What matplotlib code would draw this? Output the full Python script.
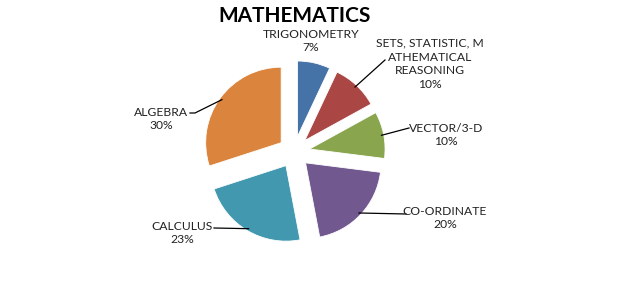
import numpy as np
import matplotlib
matplotlib.use("Agg")
import matplotlib.pyplot as plt

# Syllabus weightage by topic
topics = ["TRIGONOMETRY", "SETS, STATISTIC, M\nATHEMATICAL\nREASONING", "VECTOR/3-D",
          "CO-ORDINATE", "CALCULUS", "ALGEBRA"]
shares = [7, 10, 10, 20, 23, 30]
colors = ["#4572A7", "#AA4643", "#89A54E", "#71588F", "#4198AF", "#DB843D"]

W, H = 621, 304
cx, cy, R = 294, H - 152, 75.5
explode_frac = 0.21

# Label placement (text centre, pixel coords from top-left) and whether a leader line is drawn
label_pos = [(311, 41), (430, 64), (446, 135), (445, 218), (182, 233), (161, 119)]
leader = [False, True, True, True, True, True]
leader_start = [None, (385, 60), (409, 128), (406, 214), (214, 228), (190, 113)]

plt.rcParams["font.family"] = ["Lato", "DejaVu Sans"]
fig = plt.figure(figsize=(W / 100, H / 100), dpi=100)
ax = fig.add_axes([0, 0, 1, 1])

# matplotlib's explode offsets are in data units
wedges, _ = ax.pie(shares, colors=colors, startangle=90, counterclock=False,
                   radius=R, center=(cx, cy),
                   explode=[explode_frac * R] * len(shares),
                   wedgeprops=dict(edgecolor="white", linewidth=0.6))
ax.set_xlim(0, W)
ax.set_ylim(0, H)
ax.set_aspect("auto")
ax.axis("off")

total = sum(shares)
cum = np.cumsum([0] + shares)
for i, (name, v) in enumerate(zip(topics, shares)):
    mid = (cum[i] + v / 2) / total * 2 * np.pi  # clockwise from 12 o'clock
    ox = cx + explode_frac * R * np.sin(mid)
    oy = cy + explode_frac * R * np.cos(mid)
    ex, ey = ox + 0.97 * R * np.sin(mid), oy + 0.97 * R * np.cos(mid)
    tx, ty = label_pos[i]
    ax.text(tx, H - ty, f"{name}\n{v}%", ha="center", va="center", fontsize=8.7,
            color="#222222", linespacing=1.32)
    if leader[i]:
        sx, sy = leader_start[i]
        if i == 5:
            ax.plot([sx, sx + 5, ex], [H - sy, H - sy, ey], color="black", lw=0.9)
        else:
            ax.plot([sx, ex], [H - sy, ey], color="black", lw=0.9)

ax.text(295, H - 16, "MATHEMATICS", ha="center", va="center", fontsize=15,
        fontweight="bold", color="black")

fig.savefig("out.png", dpi=100)
